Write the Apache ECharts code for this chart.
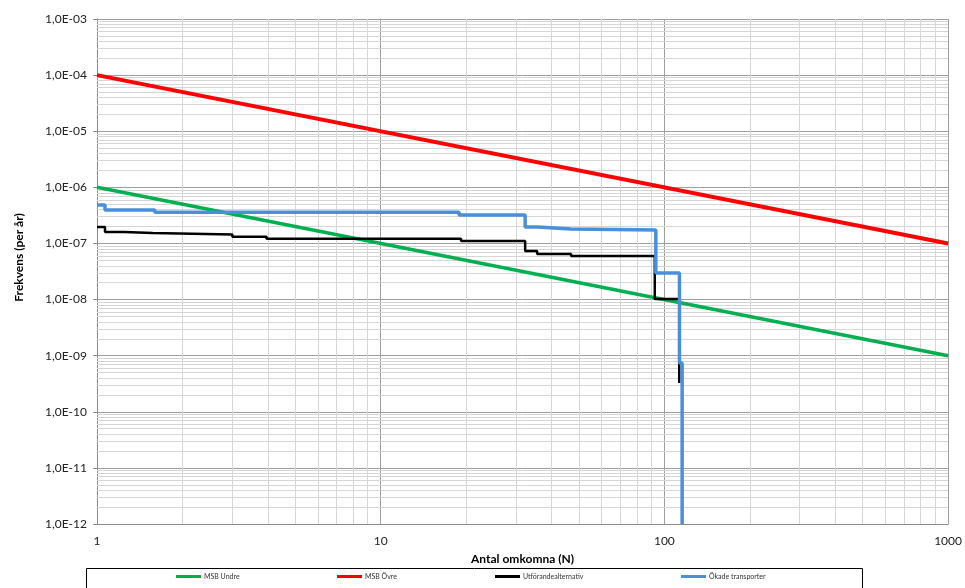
<!DOCTYPE html>
<html><head><meta charset="utf-8">
<script src="https://cdn.jsdelivr.net/npm/echarts@6/dist/echarts.min.js"></script>
<style>html,body{margin:0;padding:0;background:#fff}#c{width:965px;height:588px}</style>
</head><body><div id="c"></div>
<script>
// ---- data ----
const seriesNames = ['MSB Undre', 'MSB Övre', 'Utförandealternativ', 'Ökade transporter'];
const xTickLabels = ['1', '10', '100', '1000'];
const yTickLabels = ['1,0E-12','1,0E-11','1,0E-10','1,0E-09','1,0E-08','1,0E-07','1,0E-06','1,0E-05','1,0E-04','1,0E-03'];
const msbUndre = [[1, 1e-6], [1000, 1e-9]];
const msbOvre = [[1, 1e-4], [1000, 1e-7]];
const utforande = [[1, 1.96e-7], [1.067, 1.6e-7], [1.25, 1.53e-7], [1.57, 1.45e-7], [3.0, 1.32e-7], [3.96, 1.21e-7], [19.2, 1.1e-7], [32.3, 7.3e-8], [35.6, 6.5e-8], [46.9, 5.96e-8], [92.5, 1.02e-8], [112.8, 3.25e-10]];
const okade = [[1, 4.83e-7], [1.067, 3.94e-7], [1.6, 3.6e-7], [18.9, 3.2e-7], [32.3, 1.96e-7], [35.6, 1.81e-7], [46.9, 1.73e-7], [93.3, 2.97e-8], [113, 7.4e-10], [115.5, 1e-12]];
const mantissas = [2, 3, 4, 5, 6, 7, 8, 9];
const yDecades = [-12, -11, -10, -9, -8, -7, -6, -5, -4];
const xDecades = [0, 1, 2];

const yMinor = [];
yDecades.forEach(e => mantissas.forEach(m => yMinor.push(m * Math.pow(10, e))));
const xMinor = [];
xDecades.forEach(e => mantissas.forEach(m => xMinor.push(m * Math.pow(10, e))));

const FONT = 'Lato';
const chart = echarts.init(document.getElementById('c'), null, {renderer: 'canvas'});
const legendLeft = [176, 337, 495, 681];

const option = {
  animation: false,
  backgroundColor: '#fff',
  grid: {left: 97, right: 15, top: 19, bottom: 64, containLabel: false},
  xAxis: {
    type: 'log', logBase: 10, min: 1, max: 1000,
    name: 'Antal omkomna (N)', nameLocation: 'middle', nameGap: 29,
    nameTextStyle: {fontFamily: FONT, fontWeight: 'bold', fontSize: 12, color: '#000'},
    axisLine: {show: true, lineStyle: {color: '#8c8c8c', width: 1}},
    axisTick: {show: false},
    axisLabel: {fontFamily: FONT, fontSize: 12, color: '#222', margin: 11,
      formatter: v => xTickLabels[Math.round(Math.log10(v))]},
    splitLine: {show: true, lineStyle: {color: '#9e9e9e', width: 1}}
  },
  yAxis: {
    type: 'log', logBase: 10, min: 1e-12, max: 1e-3,
    name: 'Frekvens (per år)', nameLocation: 'middle', nameGap: 72,
    nameTextStyle: {fontFamily: FONT, fontWeight: 'bold', fontSize: 12, color: '#000', padding: [0, 0, 0, 28]},
    axisLine: {show: true, lineStyle: {color: '#8c8c8c', width: 1}},
    axisTick: {show: true, inside: false, length: 4, lineStyle: {color: '#8c8c8c'}},
    axisLabel: {fontFamily: FONT, fontSize: 12, color: '#222', margin: 10,
      formatter: v => yTickLabels[Math.round(Math.log10(v)) + 12]},
    splitLine: {show: true, lineStyle: {color: '#9e9e9e', width: 1}}
  },
  legend: seriesNames.map((n, i) => ({
    data: [n], left: legendLeft[i], top: 573, padding: 0,
    icon: 'rect', itemWidth: 25, itemHeight: 3, selectedMode: false,
    textStyle: {fontFamily: FONT, fontSize: 7, color: '#333', padding: [0, 0, 0, -2]}
  })),
  graphic: [{
    type: 'rect', silent: true,
    shape: {x: 86.5, y: 568.5, width: 776, height: 40},
    style: {fill: 'none', stroke: '#000', lineWidth: 1}
  }],
  series: [
    {
      name: '_grid', type: 'line', data: msbUndre, silent: true, z: 1,
      showSymbol: false, symbol: 'none', lineStyle: {opacity: 0},
      markLine: {
        silent: true, symbol: ['none', 'none'], label: {show: false}, animation: false,
        precision: 18, z: 1,
        lineStyle: {color: '#d6d6d6', width: 1, type: 'solid'},
        emphasis: {disabled: true},
        data: yMinor.map(v => ({yAxis: v})).concat(xMinor.map(v => ({xAxis: v})))
      }
    },
    {name: seriesNames[0], type: 'line', data: msbUndre, z: 3, showSymbol: false, symbol: 'none',
      color: '#00b050', lineStyle: {color: '#00b050', width: 3.5}},
    {name: seriesNames[1], type: 'line', data: msbOvre, z: 3, showSymbol: false, symbol: 'none',
      color: '#ff0000', lineStyle: {color: '#ff0000', width: 4}},
    {name: seriesNames[2], type: 'line', data: utforande, z: 4, step: 'end', showSymbol: false, symbol: 'none',
      color: '#000000', lineStyle: {color: '#000000', width: 2.5}},
    {name: seriesNames[3], type: 'line', data: okade, z: 5, step: 'end', showSymbol: false, symbol: 'none',
      color: '#4a8fdb', lineStyle: {color: '#4a8fdb', width: 3.5}}
  ]
};
chart.setOption(option);
</script>
</body></html>
